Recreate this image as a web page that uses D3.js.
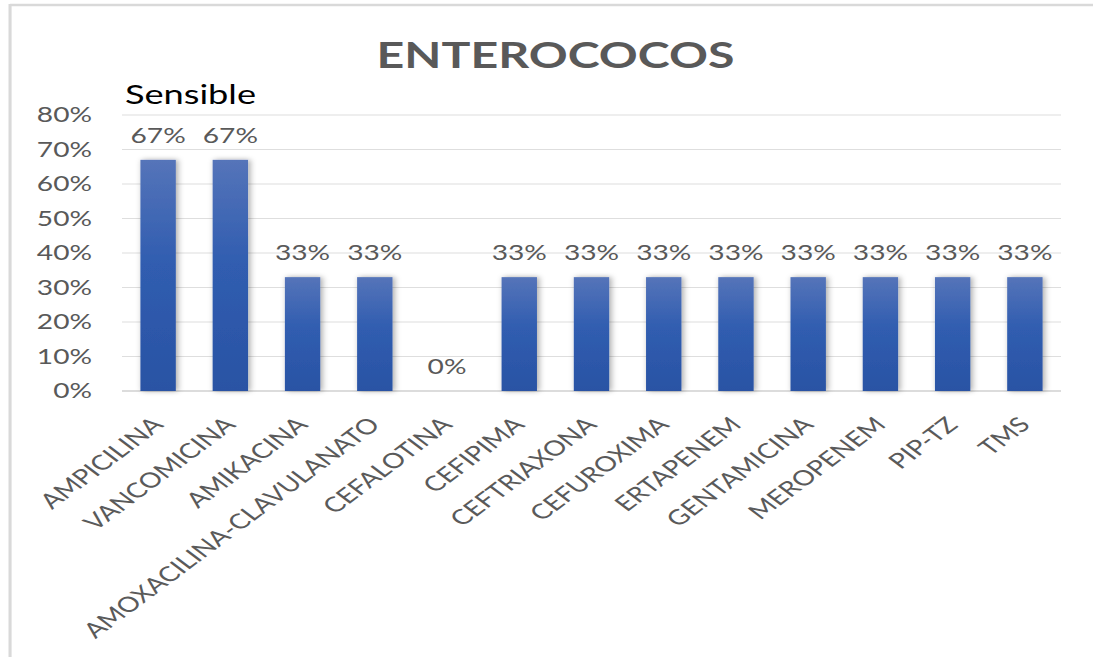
<!DOCTYPE html>
<html>
<head>
<meta charset="utf-8">
<script src="https://cdn.jsdelivr.net/npm/d3@7"></script>
<style>
  html, body { margin: 0; padding: 0; background: #fff; overflow: hidden; }
  svg { display: block; }
  text { font-family: Lato, "Open Sans", "Noto Sans", sans-serif; }
</style>
</head>
<body>
<svg id="chart" width="1093" height="657"></svg>
<script>
// Antibiotic categories and the share of sensible isolates (%)
const categories = [
  "AMPICILINA", "VANCOMICINA", "AMIKACINA", "AMOXACILINA-CLAVULANATO",
  "CEFALOTINA", "CEFIPIMA", "CEFTRIAXONA", "CEFUROXIMA", "ERTAPENEM",
  "GENTAMICINA", "MEROPENEM", "PIP-TZ", "TMS"
];
const sensible = [67, 67, 33, 33, 0, 33, 33, 33, 33, 33, 33, 33, 33];
const yTicks = [0, 10, 20, 30, 40, 50, 60, 70, 80];
const chartTitle = "ENTEROCOCOS";
const seriesName = "Sensible";

// The drawing is laid out in a narrower user space and stretched horizontally
const stretch = 1.34;
const W = 1093, H = 657;
const VW = W / stretch;

const svg = d3.select("#chart")
  .attr("viewBox", `0 0 ${VW} ${H}`)
  .attr("preserveAspectRatio", "none");

const defs = svg.append("defs");
const grad = defs.append("linearGradient")
  .attr("id", "barFill").attr("x1", 0).attr("y1", 0).attr("x2", 0).attr("y2", 1);
grad.append("stop").attr("offset", "0%").attr("stop-color", "#5574b9");
grad.append("stop").attr("offset", "45%").attr("stop-color", "#305db0");
grad.append("stop").attr("offset", "100%").attr("stop-color", "#2a53a4");

const shadow = defs.append("filter").attr("id", "barShadow")
  .attr("x", "-40%").attr("y", "-10%").attr("width", "180%").attr("height", "120%");
shadow.append("feDropShadow")
  .attr("dx", 1.5).attr("dy", 0).attr("stdDeviation", 2.5)
  .attr("flood-color", "#000").attr("flood-opacity", 0.35);

// Outer frame (left and top edges)
svg.append("line").attr("x1", 7.5).attr("x2", 7.5).attr("y1", 4).attr("y2", H)
  .attr("stroke", "#d9d9d9").attr("stroke-width", 2.3);
svg.append("line").attr("x1", 7.5).attr("x2", VW).attr("y1", 5).attr("y2", 5)
  .attr("stroke", "#d9d9d9").attr("stroke-width", 2.5);

const plot = { left: 122 / stretch, right: 1061 / stretch, top: 115, bottom: 391 };

const x = d3.scaleBand()
  .domain(categories)
  .range([plot.left, plot.right])
  .paddingInner(0.51)
  .paddingOuter(0.255);

const y = d3.scaleLinear()
  .domain([0, 80])
  .range([plot.bottom, plot.top]);

// Horizontal gridlines
svg.append("g")
  .selectAll("line")
  .data(yTicks)
  .join("line")
  .attr("x1", plot.left).attr("x2", plot.right)
  .attr("y1", d => y(d)).attr("y2", d => y(d))
  .attr("stroke", d => d === 0 ? "#d0d0d0" : "#dedede")
  .attr("stroke-width", d => d === 0 ? 1.6 : 1.2);

// Y axis labels
const yAxis = d3.axisLeft(y).tickValues(yTicks).tickFormat(d => d + "%").tickSize(0).tickPadding(0);
const yg = svg.append("g")
  .attr("transform", `translate(${92 / stretch},0)`)
  .call(yAxis);
yg.select(".domain").remove();
yg.selectAll("text")
  .attr("fill", "#595959")
  .style("font-size", "21px")
  .style("font-family", "Lato, 'Open Sans', sans-serif");

// Bars
svg.append("g")
  .selectAll("rect")
  .data(categories)
  .join("rect")
  .attr("x", d => x(d))
  .attr("width", x.bandwidth())
  .attr("y", (d, i) => y(sensible[i]))
  .attr("height", (d, i) => y(0) - y(sensible[i]))
  .attr("fill", "url(#barFill)")
  .attr("filter", (d, i) => sensible[i] > 0 ? "url(#barShadow)" : null);

// Value labels
svg.append("g")
  .selectAll("text")
  .data(categories)
  .join("text")
  .attr("x", d => x(d) + x.bandwidth() / 2)
  .attr("y", (d, i) => y(sensible[i]) - 17)
  .attr("text-anchor", "middle")
  .attr("fill", "#595959")
  .style("font-size", "21px")
  .text((d, i) => sensible[i] + "%");

// Category labels, rotated
svg.append("g")
  .selectAll("text")
  .data(categories)
  .join("text")
  .attr("transform", d => `translate(${x(d) + x.bandwidth() / 2 + 5},${426}) rotate(-45)`)
  .attr("text-anchor", "end")
  .attr("fill", "#5a5a5a")
  .style("font-size", "21px")
  .text(d => d);

// Title
svg.append("text")
  .attr("x", 555.5 / stretch)
  .attr("y", 68)
  .attr("text-anchor", "middle")
  .attr("fill", "#595959")
  .style("font-size", "36px")
  .style("font-weight", "bold")
  .text(chartTitle);

// Series name
svg.append("text")
  .attr("x", 125 / stretch)
  .attr("y", 104)
  .attr("fill", "#000")
  .style("font-size", "27px")
  .text(seriesName);
</script>
</body>
</html>
